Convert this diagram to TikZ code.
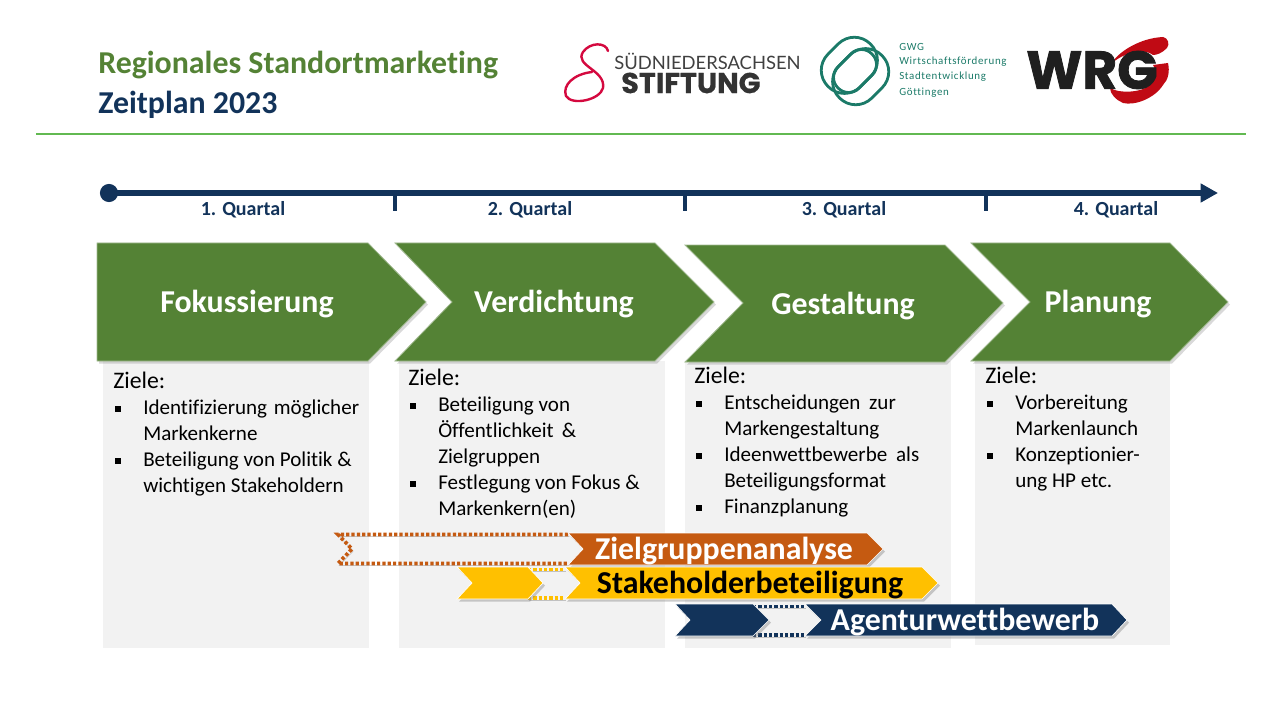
\documentclass[tikz,border=0pt]{standalone}
\usepackage{fontspec}
\setmainfont{Carlito}[Ligatures=NoCommon]
\newfontfamily\logofont{Lato}
\newfontfamily\stiftfont{Poppins}[BoldFeatures={FakeBold=0.6}]
\newfontfamily\wrgfont{Poppins}[BoldFeatures={FakeBold=1.6}]
\newfontfamily\gwgfont{Carlito}[LetterSpace=6,Ligatures=NoCommon]
\usepackage{tikz}
\usetikzlibrary{arrows.meta,shadows,calc}

\definecolor{gruen}{HTML}{548235}
\definecolor{navy}{HTML}{12335A}
\definecolor{orange}{HTML}{C55A11}
\definecolor{gelb}{HTML}{FFC000}
\definecolor{panelgrau}{HTML}{F2F2F2}
\definecolor{gwggruen}{HTML}{1B7A68}
\definecolor{wrgrot}{HTML}{C00A14}
\definecolor{stiftrot}{HTML}{D4093F}

\newcommand{\zbul}[1]{\makebox[22.5pt][l]{\hspace{1.5pt}\rule[2.4pt]{4.5pt}{4.5pt}}#1}
\newcommand{\zein}[1]{\hspace*{22.5pt}#1}
\newcommand{\zkopf}{{\fontsize{17.8}{19.5}\selectfont Ziele:}}

\begin{document}
\begin{tikzpicture}[x=0.75pt, y=-0.75pt,
    phase/.style={fill=gruen, draw=gruen!55!white, line width=0.6pt, drop shadow={shadow xshift=1.5pt, shadow yshift=-2pt, opacity=0.3}},
    phasetext/.style={text=white, font=\fontsize{23.9}{28}\selectfont\bfseries},
    panel/.style={fill=panelgrau, draw=none},
    ziele/.style={anchor=north west, inner sep=0pt, align=left, font=\fontsize{15.8}{19.5}\selectfont},
    quartal/.style={text=navy, font=\fontsize{15}{18}\selectfont\bfseries},
    balken/.style={draw=white, line width=0.5pt, drop shadow={shadow xshift=1.5pt, shadow yshift=-2pt, opacity=0.4}},
    offen/.style={line width=2.8pt, dash pattern=on 2.4pt off 1.6pt,
        preaction={draw, black, opacity=0.2, transform canvas={xshift=1pt, yshift=-1.5pt}}},
    balkentext/.style={font=\fontsize{23.9}{28}\selectfont\bfseries},
    ring/.style={gwggruen, line width=2.1pt},
    tick/.style={navy, line width=2.6pt}]

    \useasboundingbox (0,0) rectangle (1280,720);

    % title
    \node[text=gruen, anchor=west, inner sep=0pt, font=\fontsize{23.9}{28}\selectfont\bfseries] (titel) at (98,65) {Regionales Standortmarketing};
    \node[text=navy, anchor=west, inner sep=0pt, font=\fontsize{23.9}{28}\selectfont\bfseries] (jahr) at (98,105) {Zeitplan 2023};
    \coordinate (linel) at (36,134);
    \coordinate (liner) at (1246,134);
    \draw[line width=1.6pt, color=gruen!70!green!80!white] (linel) -- (liner);

    % logos
    \draw[stiftrot, line width=1.8pt, line cap=round] (608,51) .. controls (606,42) and (590,42) .. (583,52)
        .. controls (574,66) and (606,70) .. (603,88) .. controls (600,100) and (572,106) .. (566,96)
        .. controls (562,85) and (574,74) .. (592,72);
    \node[anchor=west, inner sep=0pt, text=black!75, font=\logofont\fontsize{13.8}{15}\selectfont] (suednieder) at (614,61) {SÜDNIEDERSACHSEN};
    \node[anchor=west, inner sep=0pt, text=black!80, font=\stiftfont\fontsize{21.5}{23}\selectfont\bfseries] (stiftung) at (621,83) {STIFTUNG};

    \draw[ring, rotate around={45:(855,71)}, rounded corners=17pt] (825,40) rectangle (885,86);
    \draw[ring, rotate around={45:(855,71)}, rounded corners=17pt] (825,56) rectangle (885,102);
    \draw[ring, rotate around={45:(855,71)}, rounded corners=11pt] (831,56) rectangle (879,86);
    \node[anchor=west, inner sep=0pt, text=gwggruen, font=\gwgfont\fontsize{8.2}{9}\selectfont] (gwg) at (899,47) {GWG};
    \node[anchor=west, inner sep=0pt, text=gwggruen, font=\gwgfont\fontsize{8.2}{9}\selectfont] (wirtschaft) at (899,62) {Wirtschaftsförderung};
    \node[anchor=west, inner sep=0pt, text=gwggruen, font=\gwgfont\fontsize{8.2}{9}\selectfont] (stadt) at (899,77) {Stadtentwicklung};
    \node[anchor=west, inner sep=0pt, text=gwggruen, font=\gwgfont\fontsize{8.2}{9}\selectfont] (goettingen) at (899,93) {Göttingen};

    \fill[wrgrot] (1112,63) .. controls (1118,52) and (1140,38) .. (1163,37) .. controls (1168,38) and (1170,44) .. (1167,48)
        .. controls (1162,53) and (1157,55) .. (1153,55) .. controls (1146,49) and (1128,50) .. (1112,63) -- cycle;
    \fill[wrgrot] (1153,65) -- (1168,63) .. controls (1170,72) and (1168,80) .. (1163,85) .. controls (1155,98) and (1135,106) .. (1123,103)
        .. controls (1116,100) and (1110,94) .. (1110,88) .. controls (1120,94) and (1140,92) .. (1147,87) .. controls (1154,82) and (1158,72) .. (1153,65) -- cycle;
    \node[anchor=west, inner sep=0pt, text=black!88, font=\wrgfont\fontsize{40}{42}\selectfont\bfseries] (wrg) at (1026,70) {WRG};

    % panels
    \path[panel] (103,361) rectangle (369,648);
    \path[panel] (399,361) rectangle (665,648);
    \path[panel] (685,361) rectangle (951,648);
    \path[panel] (975,361) rectangle (1170,645);

    \node[ziele] (ziele1) at (113,372) {\zkopf\\
        \zbul{Identifizierung\hspace{5pt}möglicher}\\
        \zein{Markenkerne}\\
        \zbul{Beteiligung von Politik \&}\\
        \zein{wichtigen Stakeholdern}};
    \node[ziele] (ziele2) at (408,369) {\zkopf\\
        \zbul{Beteiligung von}\\
        \zein{Öffentlichkeit \,\&}\\
        \zein{Zielgruppen}\\
        \zbul{Festlegung von Fokus \&}\\
        \zein{Markenkern(en)}};
    \node[ziele] (ziele3) at (694,367) {\zkopf\\
        \zbul{Entscheidungen\hspace{3pt} zur}\\
        \zein{Markengestaltung}\\
        \zbul{Ideenwettbewerbe\hspace{3pt} als}\\
        \zein{Beteiligungsformat}\\
        \zbul{Finanzplanung}};
    \node[ziele] (ziele4) at (985,367) {\zkopf\\
        \zbul{Vorbereitung}\\
        \zein{Markenlaunch}\\
        \zbul{Konzeptionier-}\\
        \zein{ung HP etc.}};

    % time line
    \coordinate (tlstart) at (109,193);
    \coordinate (tlend) at (1218,193);
    \coordinate (q2) at (395,193);
    \coordinate (q2e) at (395,211);
    \coordinate (q3) at (685,193);
    \coordinate (q3e) at (685,211);
    \coordinate (q4) at (986,193);
    \coordinate (q4e) at (986,211);
    \draw[navy, line width=4pt, -{Triangle[length=13pt, width=13.5pt]}] (tlstart) -- (tlend);
    \fill[navy] (tlstart) circle (6.8pt);
    \draw[tick] (q2) -- (q2e);
    \draw[tick] (q3) -- (q3e);
    \draw[tick] (q4) -- (q4e);
    \node[quartal] (quartal1) at (243,210) {1. Quartal};
    \node[quartal] (quartal2) at (530,210) {2. Quartal};
    \node[quartal] (quartal3) at (844,210) {3. Quartal};
    \node[quartal] (quartal4) at (1116,210) {4. Quartal};

    % phases
    \path[phase] (97,243) -- (368,243) -- (426,302) -- (368,361) -- (97,361) -- cycle;
    \path[phase] (395,243) -- (655,243) -- (714,302) -- (655,361) -- (395,361) -- (452,302) -- cycle;
    \path[phase] (685,245) -- (945,245) -- (1003,303) -- (945,362) -- (685,362) -- (743,303) -- cycle;
    \path[phase] (971,243) -- (1170,243) -- (1228,302) -- (1170,361) -- (971,361) -- (1030,302) -- cycle;
    \node[phasetext] (fokus) at (247,304) {Fokussierung};
    \node[phasetext] (verdichtung) at (554,304) {Verdichtung};
    \node[phasetext] (gestaltung) at (843,306) {Gestaltung};
    \node[phasetext] (planung) at (1098,304) {Planung};

    % bars
    \draw[offen, orange] (568,534.5) -- (338,534.5) -- (352,549) -- (338,563.5) -- (568,563.5);
    \path[balken, fill=orange] (568,533) -- (867,533) -- (883,549) -- (867,565) -- (568,565) -- (583,549) -- cycle;
    \node[balkentext, text=white] (zielgruppe) at (724,551) {Zielgruppenanalyse};

    \draw[offen, gelb] (528,569.5) -- (565,569.5);
    \draw[offen, gelb] (528,598) -- (565,598);
    \path[balken, fill=gelb] (457,567) -- (528,567) -- (543,583) -- (528,599) -- (457,599) -- (472,583) -- cycle;
    \path[balken, fill=gelb] (565,567) -- (922,567) -- (938,583) -- (922,599) -- (565,599) -- (580,583) -- cycle;
    \node[balkentext, text=black] (stakeholder) at (750,585) {Stakeholderbeteiligung};

    \draw[offen, navy] (753,606.5) -- (805,606.5);
    \draw[offen, navy] (753,635) -- (805,635);
    \path[balken, fill=navy] (675,604) -- (753,604) -- (769,620) -- (753,636) -- (675,636) -- (690,620) -- cycle;
    \path[balken, fill=navy] (805,604) -- (1112,604) -- (1127,620) -- (1112,636) -- (805,636) -- (821,620) -- cycle;
    \node[balkentext, text=white] (agentur) at (965,622) {Agenturwettbewerb};

\end{tikzpicture}
\end{document}
